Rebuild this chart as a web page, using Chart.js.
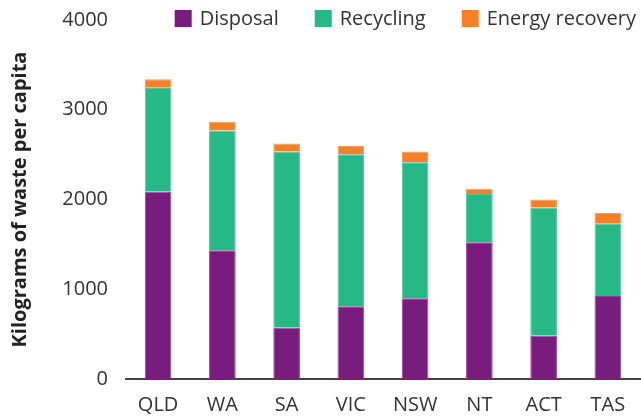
<!DOCTYPE html>
<html>
<head>
<meta charset="utf-8">
<script src="https://cdn.jsdelivr.net/npm/chart.js@4/dist/chart.umd.min.js"></script>
<style>
  html, body { margin: 0; padding: 0; background: #fff; }
  #wrap { width: 641px; height: 417px; }
</style>
</head>
<body>
<div id="wrap"><canvas id="wasteChart"></canvas></div>
<script>
const states = ['QLD', 'WA', 'SA', 'VIC', 'NSW', 'NT', 'ACT', 'TAS'];
const disposal = [2090, 1435, 575, 810, 900, 1525, 485, 925];
const recycling = [1160, 1335, 1960, 1695, 1515, 535, 1425, 805];
const energyRecovery = [90, 95, 90, 90, 120, 60, 90, 120];
const yTicks = [0, 1000, 2000, 3000, 4000];

const FONT = "'Open Sans', 'Noto Sans', sans-serif";

// legend drawn at top right, like the original
const topLegend = {
    id: 'topLegend',
    afterDraw(chart) {
        const ctx = chart.ctx;
        const sets = chart.data.datasets;
        const box = 17, gap = 8, itemGap = 36;
        ctx.save();
        ctx.font = '20px ' + FONT;
        ctx.textBaseline = 'middle';
        ctx.textAlign = 'left';
        let x = 636;
        const items = [];
        for (let i = sets.length - 1; i >= 0; i--) {
            const w = ctx.measureText(sets[i].label).width;
            x -= w;
            const tx = x;
            x -= gap + box;
            items.push({ bx: x, tx: tx, ds: sets[i] });
            x -= itemGap;
        }
        items.forEach(it => {
            ctx.fillStyle = it.ds.backgroundColor;
            ctx.fillRect(it.bx, 10, box, box);
            ctx.fillStyle = '#333';
            ctx.fillText(it.ds.label, it.tx, 19);
        });
        ctx.restore();
    }
};

new Chart(document.getElementById('wasteChart'), {
    type: 'bar',
    data: {
        labels: states,
        datasets: [
            { label: 'Disposal', data: disposal, backgroundColor: '#781d7e', borderColor: '#8d4592', borderWidth: 1 },
            { label: 'Recycling', data: recycling, backgroundColor: '#26b887', borderColor: '#4cc69b', borderWidth: 1 },
            { label: 'Energy recovery', data: energyRecovery, backgroundColor: '#f58025', borderColor: '#f7985a', borderWidth: 1 }
        ]
    },
    options: {
        responsive: true,
        maintainAspectRatio: false,
        animation: false,
        layout: { padding: { top: 20, right: 1, left: 0, bottom: 0 } },
        datasets: { bar: { categoryPercentage: 1, barPercentage: 0.415 } },
        plugins: {
            legend: { display: false },
            tooltip: { enabled: false }
        },
        scales: {
            x: {
                stacked: true,
                afterFit(scale) { scale.height = 38; },
                grid: { display: false, drawTicks: false },
                border: { display: true, color: '#444', width: 2 },
                ticks: { color: '#333', font: { family: FONT, size: 20 }, padding: 14 }
            },
            y: {
                stacked: true,
                min: 0,
                max: 4000,
                afterBuildTicks(scale) {
                    scale.ticks = yTicks.map(v => ({ value: v }));
                },
                afterFit(scale) {
                    scale.width = 126;
                    scale.paddingTop = 0;
                    scale.paddingBottom = 0;
                },
                grid: { display: false, drawTicks: false },
                border: { display: false },
                ticks: {
                    color: '#333',
                    font: { family: FONT, size: 20 },
                    padding: 18,
                    callback: v => String(v)
                },
                title: {
                    display: true,
                    text: 'Kilograms of waste per capita',
                    color: '#222',
                    font: { family: FONT, size: 20, weight: 'bold' },
                    padding: { top: 8, bottom: 0 }
                }
            }
        }
    },
    plugins: [topLegend]
});
</script>
</body>
</html>
